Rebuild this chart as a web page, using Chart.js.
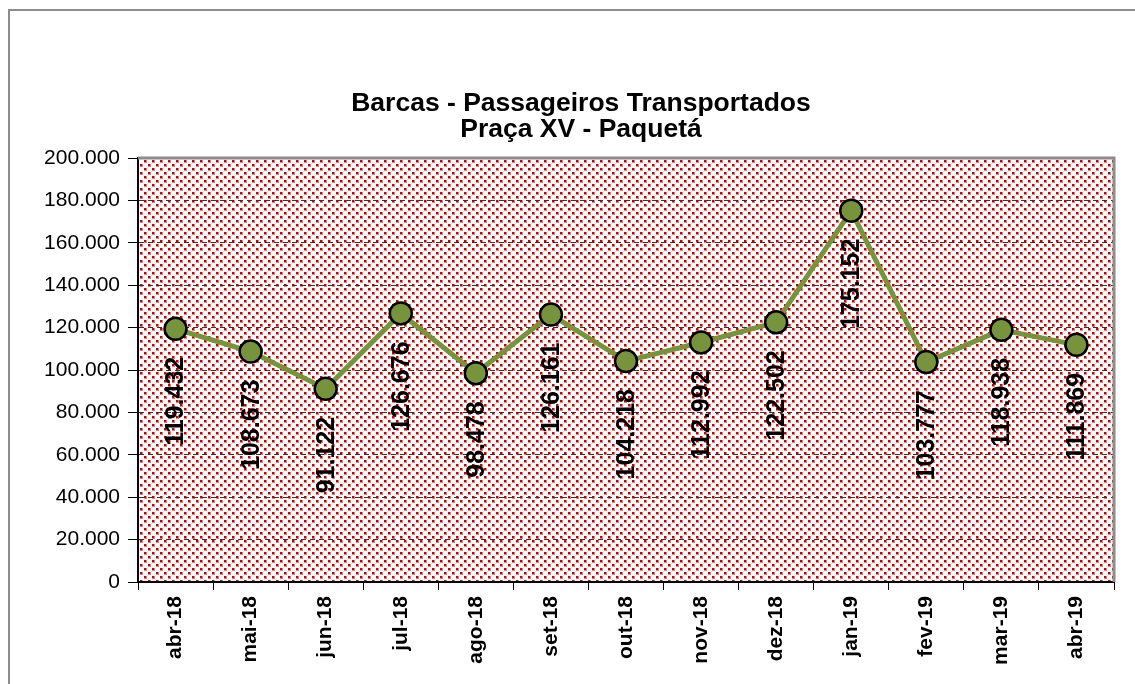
<!DOCTYPE html>
<html>
<head>
<meta charset="utf-8">
<script src="https://cdn.jsdelivr.net/npm/chart.js@4/dist/chart.umd.min.js"></script>
<style>
  body { margin: 0; background: #fff; }
  canvas { display: block; }
</style>
</head>
<body>
<canvas id="grafico" width="1135" height="684"></canvas>
<script>
// dados
const meses = ['abr-18', 'mai-18', 'jun-18', 'jul-18', 'ago-18', 'set-18', 'out-18',
  'nov-18', 'dez-18', 'jan-19', 'fev-19', 'mar-19', 'abr-19'];
const passageiros = [119432, 108673, 91122, 126676, 98478, 126161, 104218,
  112992, 122502, 175152, 103777, 118938, 111869];
const tituloLinhas = ['Barcas - Passageiros Transportados', 'Praça XV - Paquetá'];

// formato 119.432
function fmt(v) {
  return String(v).replace(/\B(?=(\d{3})+(?!\d))/g, '.');
}

// textura vermelha do fundo (padrão do excel)
function buatPola(ctx) {
  const c = document.createElement('canvas');
  c.width = 8; c.height = 8;
  const p = c.getContext('2d');
  p.fillStyle = '#ffffff';
  p.fillRect(0, 0, 8, 8);
  p.fillStyle = '#e87a7a';
  p.fillRect(0, 0, 3, 3);
  p.fillRect(4, 4, 3, 3);
  p.fillStyle = '#cc0000';
  p.fillRect(0, 0, 2, 2);
  p.fillRect(4, 4, 2, 2);
  return ctx.createPattern(c, 'repeat');
}

const fundo = {
  id: 'fundo',
  beforeDraw(chart) {
    const { ctx, chartArea: a } = chart;
    ctx.save();
    // moldura externa
    ctx.strokeStyle = '#8c8c8c';
    ctx.lineWidth = 2;
    ctx.beginPath();
    ctx.moveTo(9, 684);
    ctx.lineTo(9, 10);
    ctx.lineTo(1135, 10);
    ctx.stroke();
    // area do grafico
    ctx.fillStyle = buatPola(ctx);
    ctx.fillRect(a.left, a.top, a.right - a.left, a.bottom - a.top);
    // titulo
    ctx.fillStyle = '#000';
    ctx.font = 'bold 26.5px Arial, "Liberation Sans", sans-serif';
    ctx.textAlign = 'center';
    ctx.textBaseline = 'middle';
    ctx.fillText(tituloLinhas[0], 581, 104);
    ctx.fillText(tituloLinhas[1], 581, 130);
    ctx.restore();
  },
  beforeDatasetsDraw(chart) {
    const { ctx, chartArea: a } = chart;
    ctx.save();
    ctx.strokeStyle = '#8c8c8c';
    ctx.lineWidth = 3;
    ctx.beginPath();
    ctx.moveTo(a.left, a.top);
    ctx.lineTo(a.right, a.top);
    ctx.lineTo(a.right, a.bottom);
    ctx.stroke();
    ctx.restore();
  }
};

// rotulos de dados na vertical, abaixo do ponto
const rotulos = {
  id: 'rotulos',
  afterDatasetsDraw(chart) {
    const ctx = chart.ctx;
    const meta = chart.getDatasetMeta(0);
    ctx.save();
    ctx.fillStyle = '#000';
    ctx.font = 'bold 25px Arial, "Liberation Sans", sans-serif';
    ctx.textAlign = 'right';
    ctx.textBaseline = 'middle';
    meta.data.forEach((pt, i) => {
      ctx.save();
      ctx.translate(pt.x, pt.y);
      ctx.rotate(-Math.PI / 2);
      ctx.fillText(fmt(passageiros[i]), -28, 1);
      ctx.restore();
    });
    ctx.restore();
  }
};

new Chart(document.getElementById('grafico'), {
  type: 'line',
  data: {
    labels: meses,
    datasets: [{
      data: passageiros,
      borderColor: '#77933C',
      borderWidth: 5,
      backgroundColor: '#77933C',
      pointBackgroundColor: '#77933C',
      pointBorderColor: '#000',
      pointBorderWidth: 2.5,
      pointRadius: 11,
      tension: 0
    }]
  },
  options: {
    responsive: false,
    animation: false,
    events: [],
    layout: { padding: { top: 158, right: 21, left: 0, bottom: 0 } },
    plugins: {
      legend: { display: false },
      tooltip: { enabled: false },
      title: { display: false }
    },
    scales: {
      x: {
        offset: true,
        grid: {
          offset: true,
          drawOnChartArea: false,
          tickLength: 8,
          tickColor: '#000',
          tickWidth: 1
        },
        border: { color: '#000', width: 2 },
        ticks: {
          color: '#000',
          font: { family: 'Arial, "Liberation Sans", sans-serif', size: 21, weight: 'bold' },
          minRotation: 90,
          maxRotation: 90,
          padding: 6,
          autoSkip: false
        },
        afterFit(s) { s.height = 102; }
      },
      y: {
        min: 0,
        max: 200000,
        grid: {
          color: '#333',
          lineWidth: 1,
          tickLength: 10,
          tickColor: '#000',
          tickBorderDash: []
        },
        border: { color: '#000', width: 2, dash: [5, 4] },
        ticks: {
          stepSize: 20000,
          color: '#000',
          padding: 8,
          font: { family: 'Arial, "Liberation Sans", sans-serif', size: 21 },
          callback: v => fmt(v)
        },
        afterFit(s) { s.width = 138; }
      }
    }
  },
  plugins: [fundo, rotulos]
});
</script>
</body>
</html>
